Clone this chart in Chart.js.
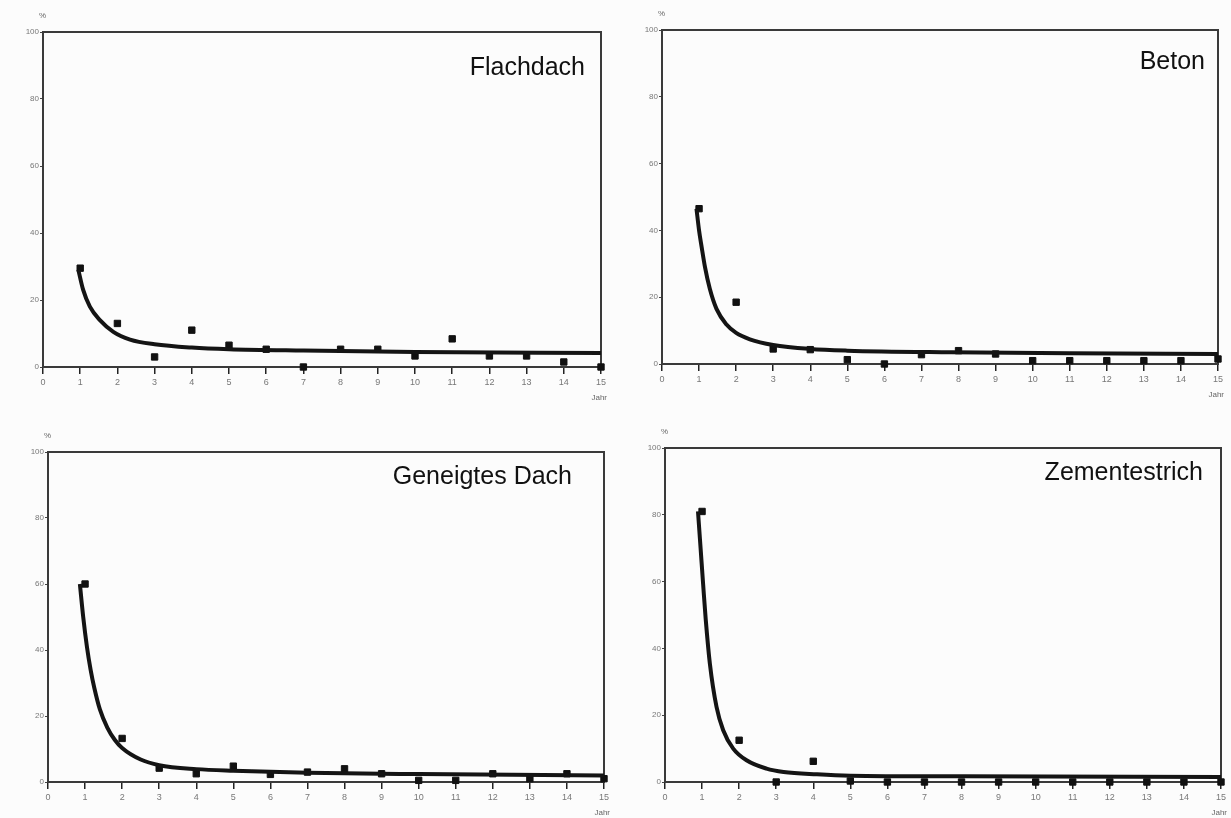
<!DOCTYPE html>
<html>
<head>
<meta charset="utf-8">
<script src="https://cdn.jsdelivr.net/npm/chart.js@4"></script>
<style>
  html, body { margin: 0; padding: 0; background: #fcfcfc; }
  body { width: 1231px; height: 818px; position: relative; overflow: hidden; }
  canvas { position: absolute; }
</style>
</head>
<body>
<canvas id="c1" width="615" height="405" style="left:0;top:0"></canvas>
<canvas id="c2" width="616" height="405" style="left:615px;top:0"></canvas>
<canvas id="c3" width="615" height="413" style="left:0;top:405px"></canvas>
<canvas id="c4" width="616" height="413" style="left:615px;top:405px"></canvas>
<script>
// measured points, year 1..15 (percent)
let years = [1, 2, 3, 4, 5, 6, 7, 8, 9, 10, 11, 12, 13, 14, 15];
let flachdach = [29.5, 13, 3, 11, 6.5, 5.3, 0, 5.3, 5.3, 3.3, 8.4, 3.3, 3.3, 1.5, 0];
let beton = [46.5, 18.5, 4.5, 4.3, 1.3, 0, 2.8, 4, 3, 1, 1, 1, 1, 1, 1.5];
let geneigt = [60, 13.2, 4.2, 2.5, 4.8, 2.3, 3, 4, 2.5, 0.5, 0.5, 2.5, 1, 2.5, 1];
let zement = [81, 12.5, 0, 6.2, 0.3, 0, 0, 0, 0, 0, 0, 0, 0, 0, 0];

// fitted curves
let flachdachFitX = [0.95, 1.08, 1.26, 1.53, 1.89, 2.34, 3, 4, 5, 7, 10, 15];
let flachdachFitY = [29, 23, 18, 14, 10.5, 8.2, 6.8, 5.8, 5.3, 4.9, 4.5, 4.2];
let betonFitX = [0.93, 1, 1.07, 1.16, 1.29, 1.47, 1.74, 2, 2.37, 3, 4, 5, 7.8, 11, 15];
let betonFitY = [46.5, 40, 35, 29, 22.5, 16.5, 11.8, 9.3, 7.4, 5.7, 4.5, 4, 3.5, 3.2, 3];
let geneigtFitX = [0.86, 0.95, 1.05, 1.15, 1.25, 1.4, 1.6, 1.8, 2, 2.5, 3, 4, 5, 7, 10, 15];
let geneigtFitY = [60, 50, 41, 34, 28.5, 22, 16.5, 12.8, 10.3, 6.8, 5.1, 3.9, 3.4, 2.8, 2.4, 2];
let zementFitX = [0.89, 0.96, 1.03, 1.1, 1.21, 1.39, 1.57, 1.84, 2.2, 2.74, 3.2, 4.1, 5, 8, 15];
let zementFitY = [81, 70, 59, 48.5, 35.5, 22.5, 15.5, 10, 6.5, 4, 3, 2.3, 1.9, 1.7, 1.5];

let font = '"Liberation Sans", Arial, sans-serif';

let panelText = {
  id: 'panelText',
  beforeDatasetsDraw(chart) {
    let a = chart.chartArea, ctx = chart.ctx;
    ctx.save();
    ctx.strokeStyle = '#3a3a3a';
    ctx.lineWidth = 2;
    ctx.strokeRect(a.left, a.top, a.right - a.left, a.bottom - a.top);
    ctx.restore();
  },
  afterDraw(chart, args, opts) {
    let a = chart.chartArea, ctx = chart.ctx;
    ctx.save();
    ctx.fillStyle = '#111';
    ctx.font = '25px ' + font;
    ctx.textAlign = 'right';
    ctx.textBaseline = 'middle';
    ctx.fillText(opts.name, a.right - opts.dx, a.top + opts.dy);
    ctx.fillStyle = '#666';
    ctx.font = '8px ' + font;
    ctx.textAlign = 'left';
    ctx.fillText('%', a.left - 4, a.top - 16);
    ctx.textAlign = 'right';
    ctx.fillText('Jahr', a.right + 6, a.bottom + 31);
    ctx.restore();
  }
};

function makePanel(id, name, pts, fitX, fitY, box) {
  let ctx = document.getElementById(id).getContext('2d');
  return new Chart(ctx, {
    type: 'scatter',
    data: {
      datasets: [{
        data: fitX.map((x, i) => ({ x: x, y: fitY[i] })),
        showLine: true,
        borderColor: '#141414',
        borderWidth: 4,
        pointRadius: 0,
        cubicInterpolationMode: 'monotone',
        clip: false
      }, {
        data: years.map((x, i) => ({ x: x, y: pts[i] })),
        showLine: false,
        pointStyle: 'rect',
        pointRadius: 4.5,
        backgroundColor: '#111',
        borderColor: '#111',
        clip: false
      }]
    },
    options: {
      responsive: false,
      animation: false,
      layout: { padding: { top: box.top, right: box.right, bottom: 0, left: 0 } },
      plugins: {
        legend: { display: false },
        tooltip: { enabled: false },
        panelText: { name: name, dx: box.dx, dy: box.dy }
      },
      scales: {
        x: {
          type: 'linear',
          min: 0,
          max: 15,
          afterFit: (scale) => { scale.height = box.xh; },
          border: { display: true, color: '#111', width: 2 },
          grid: { display: true, drawOnChartArea: false, drawTicks: true, tickLength: 7, color: '#222', lineWidth: 1.5 },
          ticks: { stepSize: 1, color: '#777', padding: 3, font: { size: 9, family: font } }
        },
        y: {
          min: 0,
          max: 100,
          afterFit: (scale) => { scale.width = box.yw; },
          border: { display: true, color: '#111', width: 2 },
          grid: { display: true, drawOnChartArea: false, drawTicks: true, tickLength: 3, color: '#444' },
          ticks: { stepSize: 20, color: '#777', padding: 1, font: { size: 8, family: font } }
        }
      }
    },
    plugins: [panelText]
  });
}

makePanel('c1', 'Flachdach', flachdach, flachdachFitX, flachdachFitY, { top: 32, right: 14, xh: 38, yw: 43, dx: 16, dy: 36 });
makePanel('c2', 'Beton', beton, betonFitX, betonFitY, { top: 30, right: 13, xh: 41, yw: 47, dx: 13, dy: 32 });
makePanel('c3', 'Geneigtes Dach', geneigt, geneigtFitX, geneigtFitY, { top: 47, right: 11, xh: 36, yw: 48, dx: 32, dy: 25 });
makePanel('c4', 'Zementestrich', zement, zementFitX, zementFitY, { top: 43, right: 10, xh: 36, yw: 50, dx: 18, dy: 25 });
</script>
</body>
</html>
